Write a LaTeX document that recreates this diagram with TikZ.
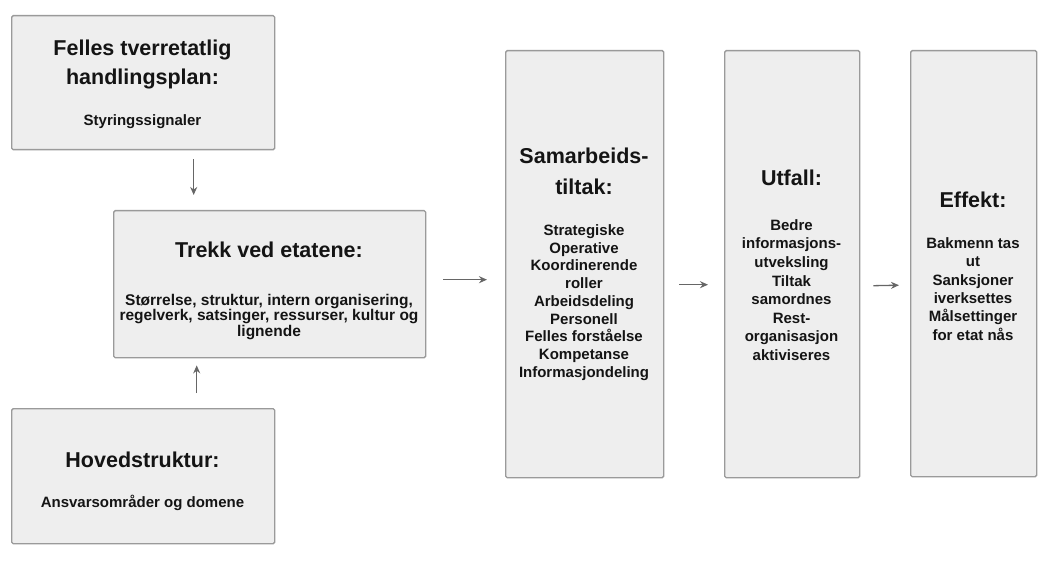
\documentclass[tikz,border=0pt]{standalone}
\usepackage{fontspec}
\setmainfont{Liberation Sans}
\usetikzlibrary{arrows.meta}
\definecolor{boxfill}{HTML}{EEEEEE}
\definecolor{boxline}{HTML}{9A9A9A}
\definecolor{arrowc}{HTML}{666666}
\definecolor{txt}{HTML}{141414}
\begin{document}
\begin{tikzpicture}[x=1pt,y=-1pt,
  box/.style={draw=boxline,fill=boxfill,line width=1.4pt,rounded corners=1.5pt,anchor=north west,inner sep=0pt},
  ttl/.style={font=\fontsize{21.5}{30}\selectfont\bfseries,text=txt,align=center,inner sep=0pt},
  body/.style={font=\fontsize{15}{18}\selectfont\bfseries,text=txt,align=center,inner sep=0pt},
  arr/.style={draw=arrowc,line width=1.3pt,-{Stealth[length=8pt,width=7pt]}}]
\useasboundingbox (0,0) rectangle (1049,561);
% boxes
\node[box,minimum width=263pt,minimum height=134pt] (f) at (11,15) {};
\node[box,minimum width=312pt,minimum height=147pt] (t) at (113,210) {};
\node[box,minimum width=263pt,minimum height=135pt] (h) at (11,408) {};
\node[box,minimum width=158pt,minimum height=427pt] (s) at (505,50) {};
\node[box,minimum width=135pt,minimum height=427pt] (u) at (724,50) {};
\node[box,minimum width=126pt,minimum height=426pt] (e) at (910,50) {};
% texts
\node[ttl,font=\fontsize{21.5}{29}\selectfont\bfseries] (ft) at (142.5,64.5) {Felles tverretatlig\\handlingsplan:};
\node[body] (fb) at (142.5,122) {Styringssignaler};
\node[ttl] (tt) at (269,250) {Trekk ved etatene:};
\node[body,font=\fontsize{15.5}{15.5}\selectfont\bfseries] (tb) at (269,317) {Størrelse, struktur, intern organisering,\\regelverk, satsinger, ressurser, kultur og\\lignende};
\node[ttl] (ht) at (142.5,460) {Hovedstruktur:};
\node[body] (hb) at (142.5,503) {Ansvarsområder og domene};
\node[ttl,font=\fontsize{21.5}{31}\selectfont\bfseries] (st) at (584,171) {Samarbeids-\\tiltak:};
\node[body,font=\fontsize{15}{17.7}\selectfont\bfseries] (sb) at (584,302.5) {Strategiske\\Operative\\Koordinerende\\roller\\Arbeidsdeling\\Personell\\Felles forståelse\\Kompetanse\\Informasjondeling};
\node[ttl] (ut) at (791.5,178) {Utfall:};
\node[body,font=\fontsize{15}{18.6}\selectfont\bfseries] (ub) at (791.5,290) {Bedre\\informasjons-\\utveksling\\Tiltak\\samordnes\\Rest-\\organisasjon\\aktiviseres};
\node[ttl] (et) at (973,200) {Effekt:};
\node[body,font=\fontsize{15}{18.4}\selectfont\bfseries] (eb) at (973,289) {Bakmenn tas\\ut\\Sanksjoner\\iverksettes\\Målsettinger\\for etat nås};
% arrows
\draw[arr] ([xshift=50.5pt,yshift=-9pt]f.south) -- ([xshift=-76pt,yshift=15pt]t.north);
\draw[arr] ([xshift=53.5pt,yshift=15pt]h.north) -- ([xshift=-73pt,yshift=-7pt]t.south);
\draw[arr] ([xshift=17pt,yshift=4.5pt]t.east) -- ([xshift=-18pt,yshift=-15.5pt]s.west);
\draw[arr] ([xshift=15pt,yshift=-20.5pt]s.east) -- ([xshift=-16pt,yshift=-20.5pt]u.west);
\draw[arr] ([xshift=13pt,yshift=-21.5pt]u.east) -- ([xshift=-11pt,yshift=-21.5pt]e.west);
\end{tikzpicture}
\end{document}
